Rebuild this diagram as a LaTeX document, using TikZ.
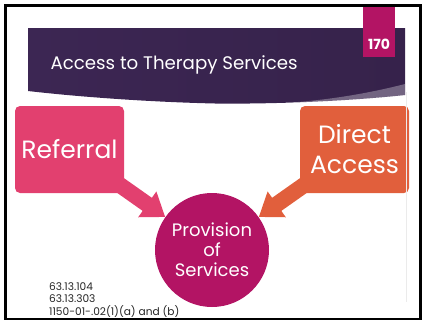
\documentclass[tikz,border=0pt]{standalone}
\usepackage{fontspec}
\setmainfont{Poppins}
\usetikzlibrary{positioning,arrows.meta}
\definecolor{refpink}{HTML}{E2406F}
\definecolor{directorange}{HTML}{E15F3C}
\definecolor{provmagenta}{HTML}{B31464}
\definecolor{bannerdark}{HTML}{3C2653}
\definecolor{bannermid}{HTML}{72306A}
\pgfdeclarelayer{background}
\pgfsetlayers{background,main}

\begin{document}
\begin{tikzpicture}[x=1pt,y=-1pt,node distance=285pt,on grid,
    box/.style={rectangle,rounded corners=5pt,minimum width=109pt,minimum height=87pt,
      inner sep=0pt,align=center,text=white,font=\fontsize{25}{30}\selectfont},
    hub/.style={circle,fill=provmagenta,minimum size=114pt,inner sep=0pt,align=center,
      text=white,font=\fontsize{18}{20}\selectfont},
    fatarrow/.style={line width=16pt,-{Triangle[width=30pt,length=22pt]}}]
    \useasboundingbox (0,0) rectangle (424,322);
    % title banner
    \shade[left color=bannerdark,middle color=bannermid,right color=bannerdark!90!black]
      (28,28) -- (405,28) -- (405,95) .. controls (330,103) and (250,104) .. (215,103.5)
      .. controls (150,102) and (80,97) .. (28,91) -- cycle;
    \fill[white,opacity=0.3] (405,84) .. controls (370,93) and (330,100) .. (285,103)
      .. controls (330,102) and (370,99) .. (405,95) -- cycle;
    \fill[provmagenta] (363,5) rectangle (395,57);
    \node[text=white,font=\bfseries\fontsize{14}{16}\selectfont] (pagenum) at (379,44) {170};
    \node[anchor=west,text=white,font=\fontsize{18.2}{20}\selectfont] (title) at (47,65) {Access to Therapy Services};
    % boxes and hub
    \node[box,fill=refpink] (ref) at (69.5,149.5) {Referral};
    \node[box,fill=directorange,right=of ref] (direct) {Direct\\Access};
    \node[hub,below right=100.5pt and 142.5pt of ref] (hub) {Provision\\of\\Services};
    \begin{pgfonlayer}{background}
      \draw[fatarrow,refpink] (ref.center) -- (hub);
      \draw[fatarrow,directorange] (direct.center) -- (hub);
    \end{pgfonlayer}
    \node[anchor=north west,inner sep=0pt,align=left,text=black!85,
      font=\fontsize{10.6}{12.5}\selectfont] (cites) at (49,282) {63.13.104\\63.13.303\\1150-01-.02(1)(a) and (b)};
    \draw[black!8] (406,92) -- (406,302);
    \draw[line width=2.5pt] (5.5,5.5) rectangle (420.5,319);
\end{tikzpicture}
\end{document}
